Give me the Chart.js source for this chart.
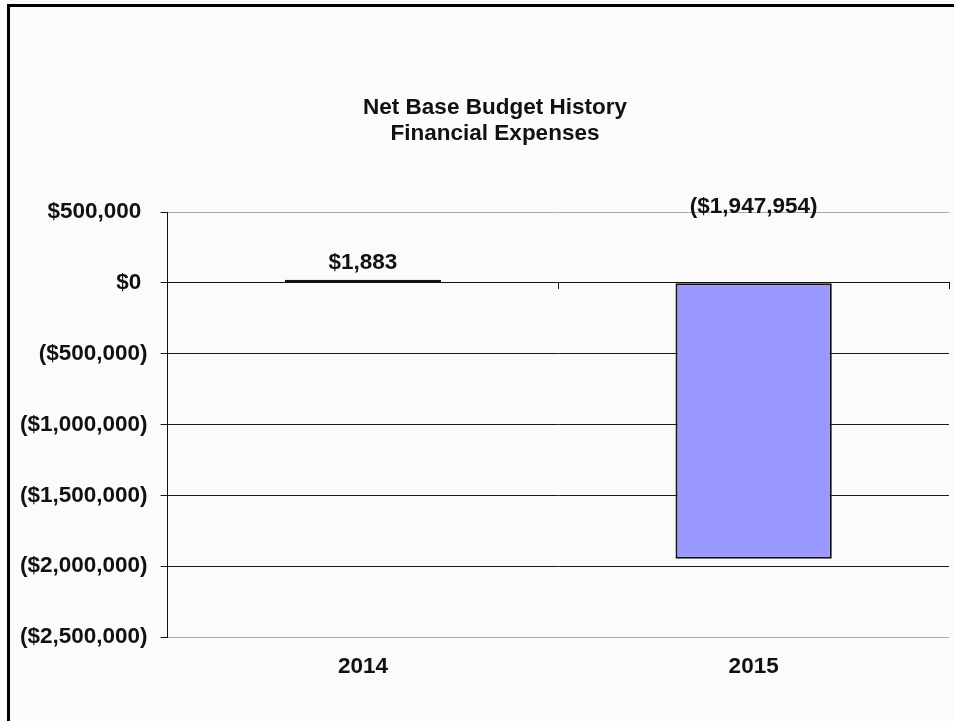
<!DOCTYPE html>
<html>
<head>
<meta charset="utf-8">
<script src="https://cdn.jsdelivr.net/npm/chart.js@4.4.1/dist/chart.umd.min.js"></script>
<style>
    html, body { margin: 0; padding: 0; background: #fbfbfb; }
    #wrap { position: relative; width: 954px; height: 721px; overflow: hidden; }
    #frame {
        position: absolute; left: 7px; top: 4px; right: -10px; bottom: -10px;
        border-left: 3px solid #000; border-top: 3px solid #000;
        pointer-events: none;
    }
    canvas { position: absolute; left: 0; top: 0; }
</style>
</head>
<body>
<div id="wrap">
    <canvas id="budgetChart" width="954" height="721"></canvas>
    <div id="frame"></div>
</div>
<script>
// Budget nets par exercice
const years = ['2014', '2015'];
const netBudget = [1883, -1947954];
const titleLines = ['Net Base Budget History', 'Financial Expenses'];
const yMin = -2500000;
const yMax = 500000;
const yStep = 500000;

const FONT = "'Liberation Sans', Arial, Helvetica, sans-serif";
const FSIZE = 22.5;

// format comptable : négatifs entre parenthèses
function money(v) {
    const s = '$' + Math.abs(v).toLocaleString('en-US');
    return v < 0 ? '(' + s + ')' : s;
}

const titlePlugin = {
    id: 'twoLineTitle',
    afterDraw(chart) {
        const c = chart.ctx;
        c.save();
        c.fillStyle = '#111';
        c.font = 'bold ' + FSIZE + 'px ' + FONT;
        c.textAlign = 'center';
        c.textBaseline = 'alphabetic';
        titleLines.forEach((t, i) => c.fillText(t, 495, 114 + i * 26));
        c.restore();
    }
};

const valueLabels = {
    id: 'valueLabels',
    afterDatasetsDraw(chart) {
        const c = chart.ctx;
        const meta = chart.getDatasetMeta(0);
        c.save();
        c.fillStyle = '#111';
        c.font = 'bold ' + FSIZE + 'px ' + FONT;
        c.textAlign = 'center';
        c.textBaseline = 'alphabetic';
        meta.data.forEach((bar, i) => {
            const v = netBudget[i];
            // les valeurs négatives sont affichées au-dessus de la zone du graphique
            const y = v >= 0 ? bar.y - 11 : chart.chartArea.top + 1;
            c.fillText(money(v), bar.x, y);
        });
        c.restore();
    }
};

new Chart(document.getElementById('budgetChart'), {
    type: 'bar',
    data: {
        labels: years,
        datasets: [{
            data: netBudget,
            backgroundColor: '#9999FF',
            borderColor: '#111',
            borderWidth: 2,
            borderSkipped: false,
            minBarLength: 3,
            categoryPercentage: 1,
            barPercentage: 0.4
        }]
    },
    options: {
        responsive: false,
        animation: false,
        layout: { padding: { left: 7, right: 5, top: 212, bottom: 33 } },
        plugins: { legend: { display: false }, tooltip: { enabled: false }, title: { display: false } },
        scales: {
            x: {
                grid: { display: false },
                border: { display: false },
                ticks: { color: '#111', font: { family: FONT, size: FSIZE, weight: 'bold' }, padding: 8 }
            },
            // axe des catégories qui croise à zéro
            xZero: {
                type: 'category',
                position: { y: 0 },
                offset: true,
                grid: { offset: true, drawOnChartArea: false, drawTicks: true, tickLength: 6, color: '#111' },
                border: { display: true, color: '#111', width: 1 },
                ticks: { display: false }
            },
            y: {
                min: yMin,
                max: yMax,
                grid: {
                    color: ctx => (ctx.tick && (ctx.tick.value === yMax || ctx.tick.value === yMin)) ? '#aaaaaa' : '#1a1a1a',
                    tickColor: '#111',
                    tickLength: 7
                },
                border: { display: true, color: '#111', width: 1 },
                ticks: {
                    stepSize: yStep,
                    padding: 13,
                    color: '#111',
                    font: { family: FONT, size: FSIZE, weight: 'bold' },
                    callback: v => v < 0 ? money(v) : money(v) + ' '
                }
            }
        }
    },
    plugins: [titlePlugin, valueLabels]
});
</script>
</body>
</html>
